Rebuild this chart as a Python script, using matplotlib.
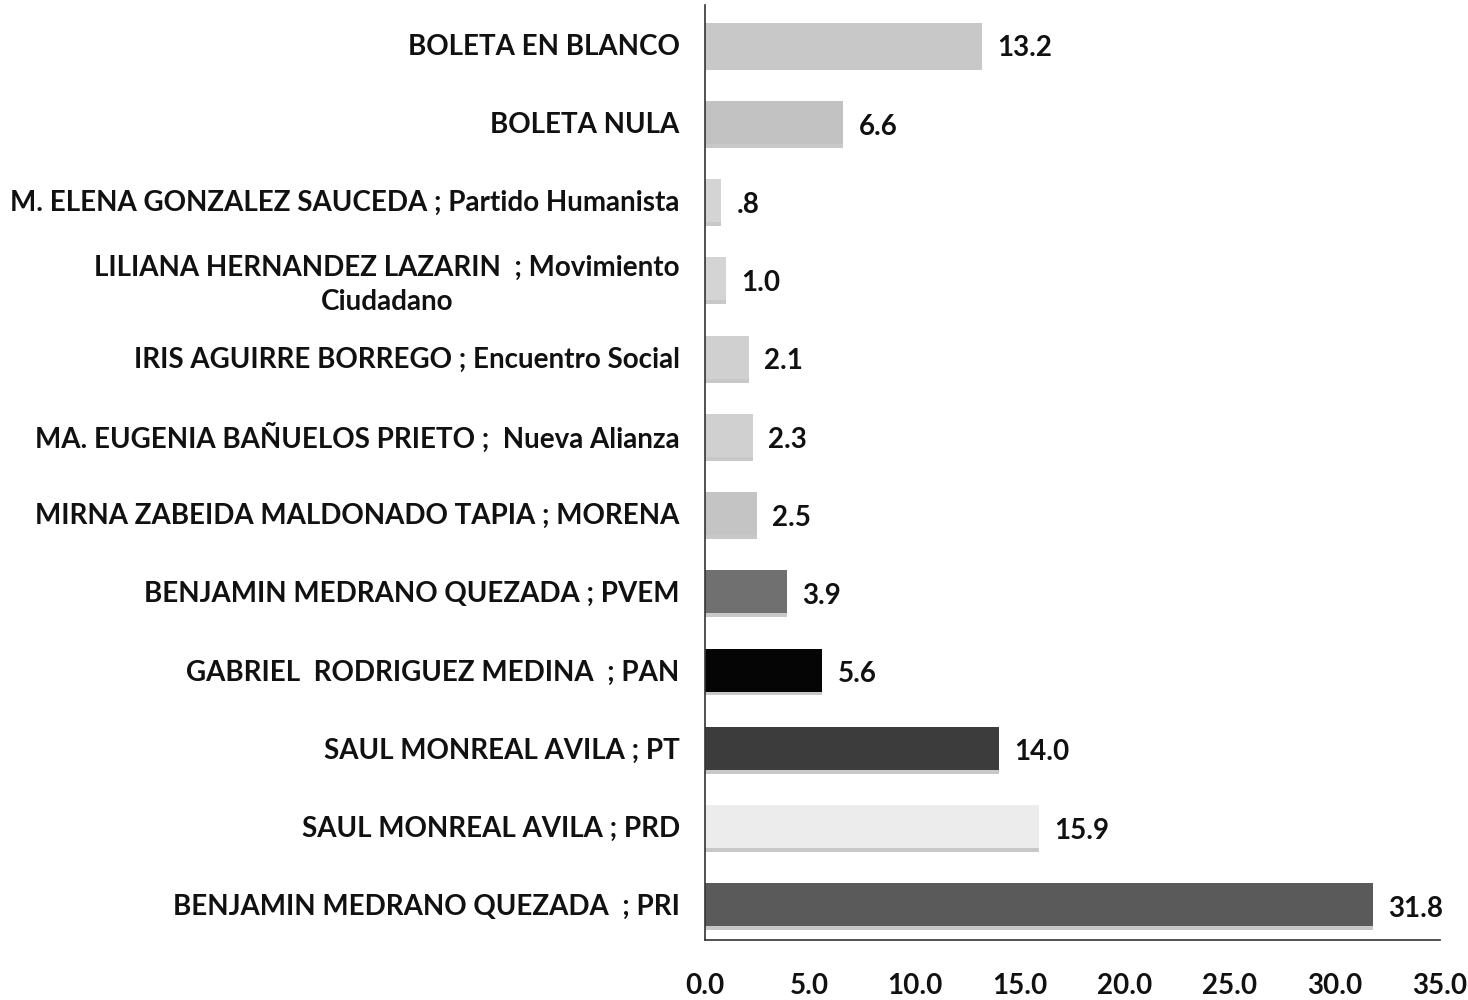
import matplotlib.pyplot as plt
import numpy as np

plt.rcParams['font.family'] = ['Lato', 'DejaVu Sans']

# categories listed bottom to top, as barh draws them
candidates = [
    'BENJAMIN MEDRANO QUEZADA  ; PRI',
    'SAUL MONREAL AVILA ; PRD',
    'SAUL MONREAL AVILA ; PT',
    'GABRIEL  RODRIGUEZ MEDINA  ; PAN',
    'BENJAMIN MEDRANO QUEZADA ; PVEM',
    'MIRNA ZABEIDA MALDONADO TAPIA ; MORENA',
    'MA. EUGENIA BAÑUELOS PRIETO ;  Nueva Alianza',
    'IRIS AGUIRRE BORREGO ; Encuentro Social',
    'LILIANA HERNANDEZ LAZARIN  ; Movimiento\nCiudadano',
    'M. ELENA GONZALEZ SAUCEDA ; Partido Humanista',
    'BOLETA NULA',
    'BOLETA EN BLANCO',
]
percent = [31.8, 15.9, 14.0, 5.6, 3.9, 2.5, 2.3, 2.1, 1.0, 0.8, 6.6, 13.2]
value_labels = ['31.8', '15.9', '14.0', '5.6', '3.9', '2.5', '2.3', '2.1', '1.0', '.8', '6.6', '13.2']
bar_colors = ['#5a5a5a', '#ececec', '#3c3c3c', '#050505', '#707070', '#c4c4c4',
              '#d0d0d0', '#d0d0d0', '#d4d4d4', '#d4d4d4', '#c2c2c2', '#c8c8c8']
x_ticks = [0, 5, 10, 15, 20, 25, 30, 35]

fig = plt.figure(figsize=(14.68, 10), dpi=100)
ax = fig.add_axes([0.48, 0.06, 0.501, 0.935])

y = np.arange(len(candidates))
# faint shadow strip under each bar
ax.barh(y - 0.3, percent, height=0.05, color='#c8c8c8', edgecolor='none')
ax.barh(y, percent, height=0.55, color=bar_colors, edgecolor='none')

for yi, v, lab in zip(y, percent, value_labels):
    ax.annotate(lab, (v, yi), xytext=(11, -3), textcoords='offset points',
                ha='left', va='center', fontsize=20, fontweight='bold', color='#111111')

ax.set_xlim(0, 35)
ax.set_ylim(-0.45, 11.5)
ax.set_xticks(x_ticks)
ax.set_xticklabels([f'{t:.1f}' for t in x_ticks], fontsize=20, fontweight='bold')
ax.set_yticks(y)
ax.set_yticklabels(candidates, fontsize=20, fontweight='bold',
                   multialignment='center', linespacing=1.35)
ax.tick_params(axis='both', length=0, colors='#111111')
ax.tick_params(axis='x', pad=24)
ax.tick_params(axis='y', pad=18)

for side in ['top', 'right']:
    ax.spines[side].set_visible(False)
for side in ['left', 'bottom']:
    ax.spines[side].set_color('#333333')
    ax.spines[side].set_linewidth(1.2)

plt.savefig('out.png', dpi=100)
plt.close()
